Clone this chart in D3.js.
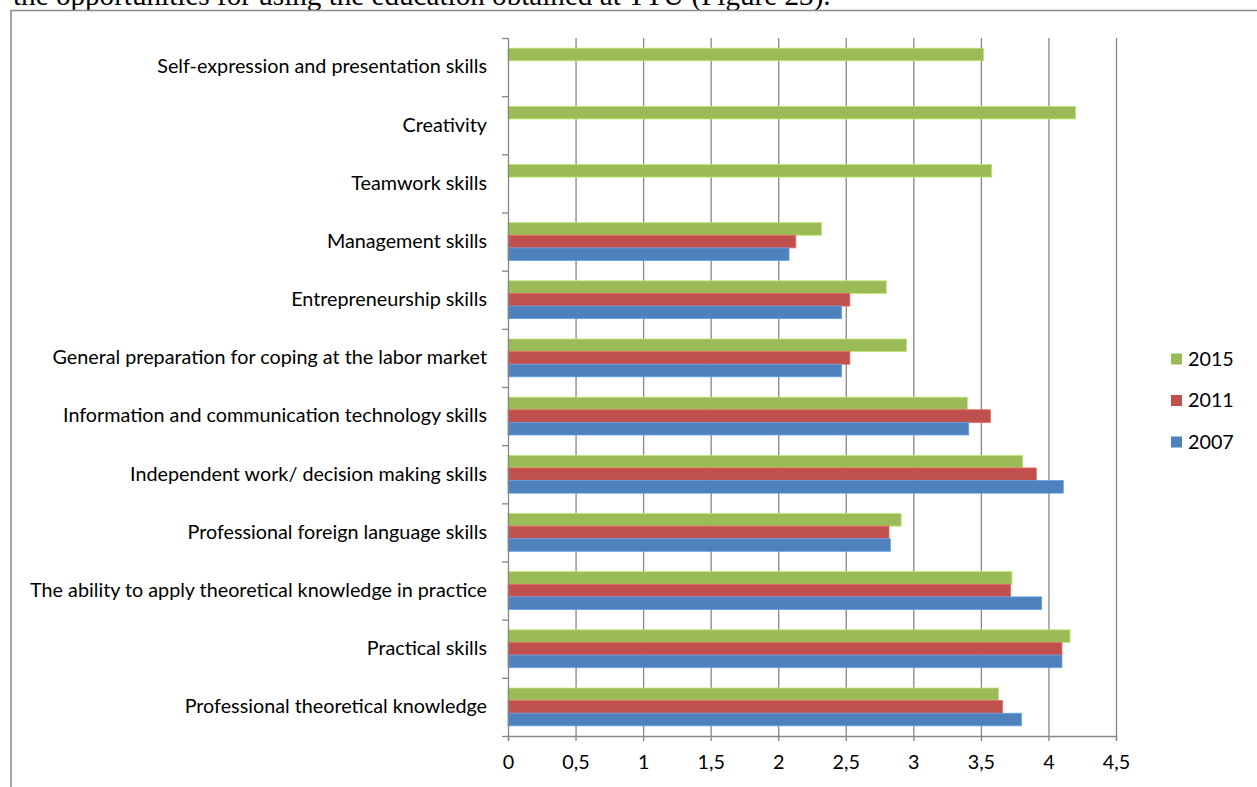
<!DOCTYPE html>
<html>
<head>
<meta charset="utf-8">
<script src="https://cdn.jsdelivr.net/npm/d3@7/dist/d3.min.js"></script>
<style>
  html, body { margin: 0; padding: 0; background: #fff; }
  svg { display: block; }
</style>
</head>
<body>
<svg id="chart" width="1257" height="787"></svg>
<script>
// Skill categories, bottom to top as listed in the survey table
const categories = [
  "Professional theoretical knowledge",
  "Practical skills",
  "The ability to apply theoretical knowledge in practice",
  "Professional foreign language skills",
  "Independent work/ decision making skills",
  "Information and communication technology skills",
  "General preparation for coping at the labor market",
  "Entrepreneurship skills",
  "Management skills",
  "Teamwork skills",
  "Creativity",
  "Self-expression and presentation skills"
];

// Mean ratings per survey year (null = not asked that year)
const values2007 = [3.80, 4.10, 3.95, 2.83, 4.11, 3.41, 2.47, 2.47, 2.08, null, null, null];
const values2011 = [3.66, 4.10, 3.72, 2.82, 3.91, 3.57, 2.53, 2.53, 2.13, null, null, null];
const values2015 = [3.63, 4.16, 3.73, 2.91, 3.81, 3.40, 2.95, 2.80, 2.32, 3.58, 4.20, 3.52];

const seriesNames = ["2015", "2011", "2007"];
const seriesColors = ["#9BBB59", "#C0504D", "#4F81BD"];
const seriesValues = [values2015, values2011, values2007];

const xTicks = [0, 0.5, 1, 1.5, 2, 2.5, 3, 3.5, 4, 4.5];
const xTickLabels = ["0", "0,5", "1", "1,5", "2", "2,5", "3", "3,5", "4", "4,5"];

const svg = d3.select("#chart");
const labelFont = "Lato, 'Open Sans', sans-serif";
const axisGray = "#878787";

// Surrounding document text and frame
const para = svg.append("text")
  .attr("x", 13).attr("y", 5)
  .attr("font-family", "'Liberation Serif', 'Times New Roman', serif")
  .attr("font-size", 24)
  .attr("fill", "#000")
  .text("the opportunities for using the education obtained at TTÜ (Figure 23).");
{
  const w = para.node().getComputedTextLength();
  para.attr("font-size", 24 * 818 / w);
}
svg.append("path")
  .attr("d", "M11,787 V10.5 H1257")
  .attr("fill", "none")
  .attr("stroke", "#8c8c8c")
  .attr("stroke-width", 1.6);

// Plot area
const plot = { left: 508, right: 1116, top: 38, bottom: 736 };

const x = d3.scaleLinear().domain([0, 4.5]).range([plot.left, plot.right]);

const y = d3.scaleBand()
  .domain(categories.slice().reverse())
  .range([plot.top, plot.bottom])
  .padding(0);

const inner = d3.scaleBand()
  .domain(seriesNames)
  .range([y.bandwidth() * 0.175, y.bandwidth() * 0.825])
  .padding(0);

// Fit the category label size to the longest label
const probe = svg.append("text")
  .attr("font-family", labelFont).attr("font-size", 16)
  .text(categories[2]);
const fontSize = 16 * 457 / probe.node().getComputedTextLength();
probe.remove();

// Vertical gridlines
const grid = svg.append("g")
  .attr("transform", `translate(0,${plot.bottom})`)
  .call(d3.axisBottom(x).tickValues(xTicks.slice(1))
    .tickSize(-(plot.bottom - plot.top)).tickFormat(""));
grid.select(".domain").remove();
grid.selectAll("line").attr("stroke", axisGray).attr("stroke-width", 1.3);

// Bars
seriesValues.forEach((vals, si) => {
  svg.append("g")
    .selectAll("rect")
    .data(categories.map((c, i) => ({ c, v: vals[i] })).filter(d => d.v != null))
    .join("rect")
    .attr("x", x(0))
    .attr("y", d => y(d.c) + inner(seriesNames[si]))
    .attr("width", d => x(d.v) - x(0))
    .attr("height", inner.bandwidth())
    .attr("fill", seriesColors[si])
    .attr("stroke", d3.color(seriesColors[si]).brighter(0.6))
    .attr("stroke-width", 0.8);
});

// Bottom axis
const xAxis = svg.append("g")
  .attr("transform", `translate(0,${plot.bottom})`)
  .call(d3.axisBottom(x).tickValues(xTicks)
    .tickSize(5).tickPadding(14)
    .tickFormat((d, i) => xTickLabels[i]));
xAxis.select(".domain").attr("stroke", axisGray).attr("stroke-width", 1.3);
xAxis.selectAll("line").attr("stroke", axisGray).attr("stroke-width", 1.3);
xAxis.selectAll("text")
  .attr("font-family", labelFont).attr("font-size", fontSize).attr("fill", "#000");

// Left axis: tick marks on category boundaries
const yEdges = d3.scaleLinear().domain([0, categories.length]).range([plot.bottom, plot.top]);
const yTicks = svg.append("g")
  .attr("transform", `translate(${plot.left},0)`)
  .call(d3.axisLeft(yEdges).ticks(categories.length).tickSize(6).tickFormat(""));
yTicks.select(".domain").attr("stroke", axisGray).attr("stroke-width", 1.3)
  .attr("d", `M0.5,${plot.top}V${plot.bottom}`);
yTicks.selectAll("line").attr("stroke", axisGray).attr("stroke-width", 1.3);

// Category labels
const yAxis = svg.append("g")
  .attr("transform", `translate(${plot.left},0)`)
  .call(d3.axisLeft(y).tickSize(0).tickPadding(21));
yAxis.select(".domain").remove();
yAxis.selectAll("text")
  .attr("font-family", labelFont).attr("font-size", fontSize).attr("fill", "#000");

// Legend
const legend = svg.append("g").attr("transform", "translate(1171,359)");
const legendItems = legend.selectAll("g")
  .data(seriesNames)
  .join("g")
  .attr("transform", (d, i) => `translate(0,${i * 41.5})`);
legendItems.append("rect")
  .attr("x", 0).attr("y", -5.5).attr("width", 11).attr("height", 11)
  .attr("fill", (d, i) => seriesColors[i]);
legendItems.append("text")
  .attr("x", 17).attr("dy", "0.35em")
  .attr("font-family", labelFont).attr("font-size", fontSize).attr("fill", "#000")
  .text(d => d);
</script>
</body>
</html>
